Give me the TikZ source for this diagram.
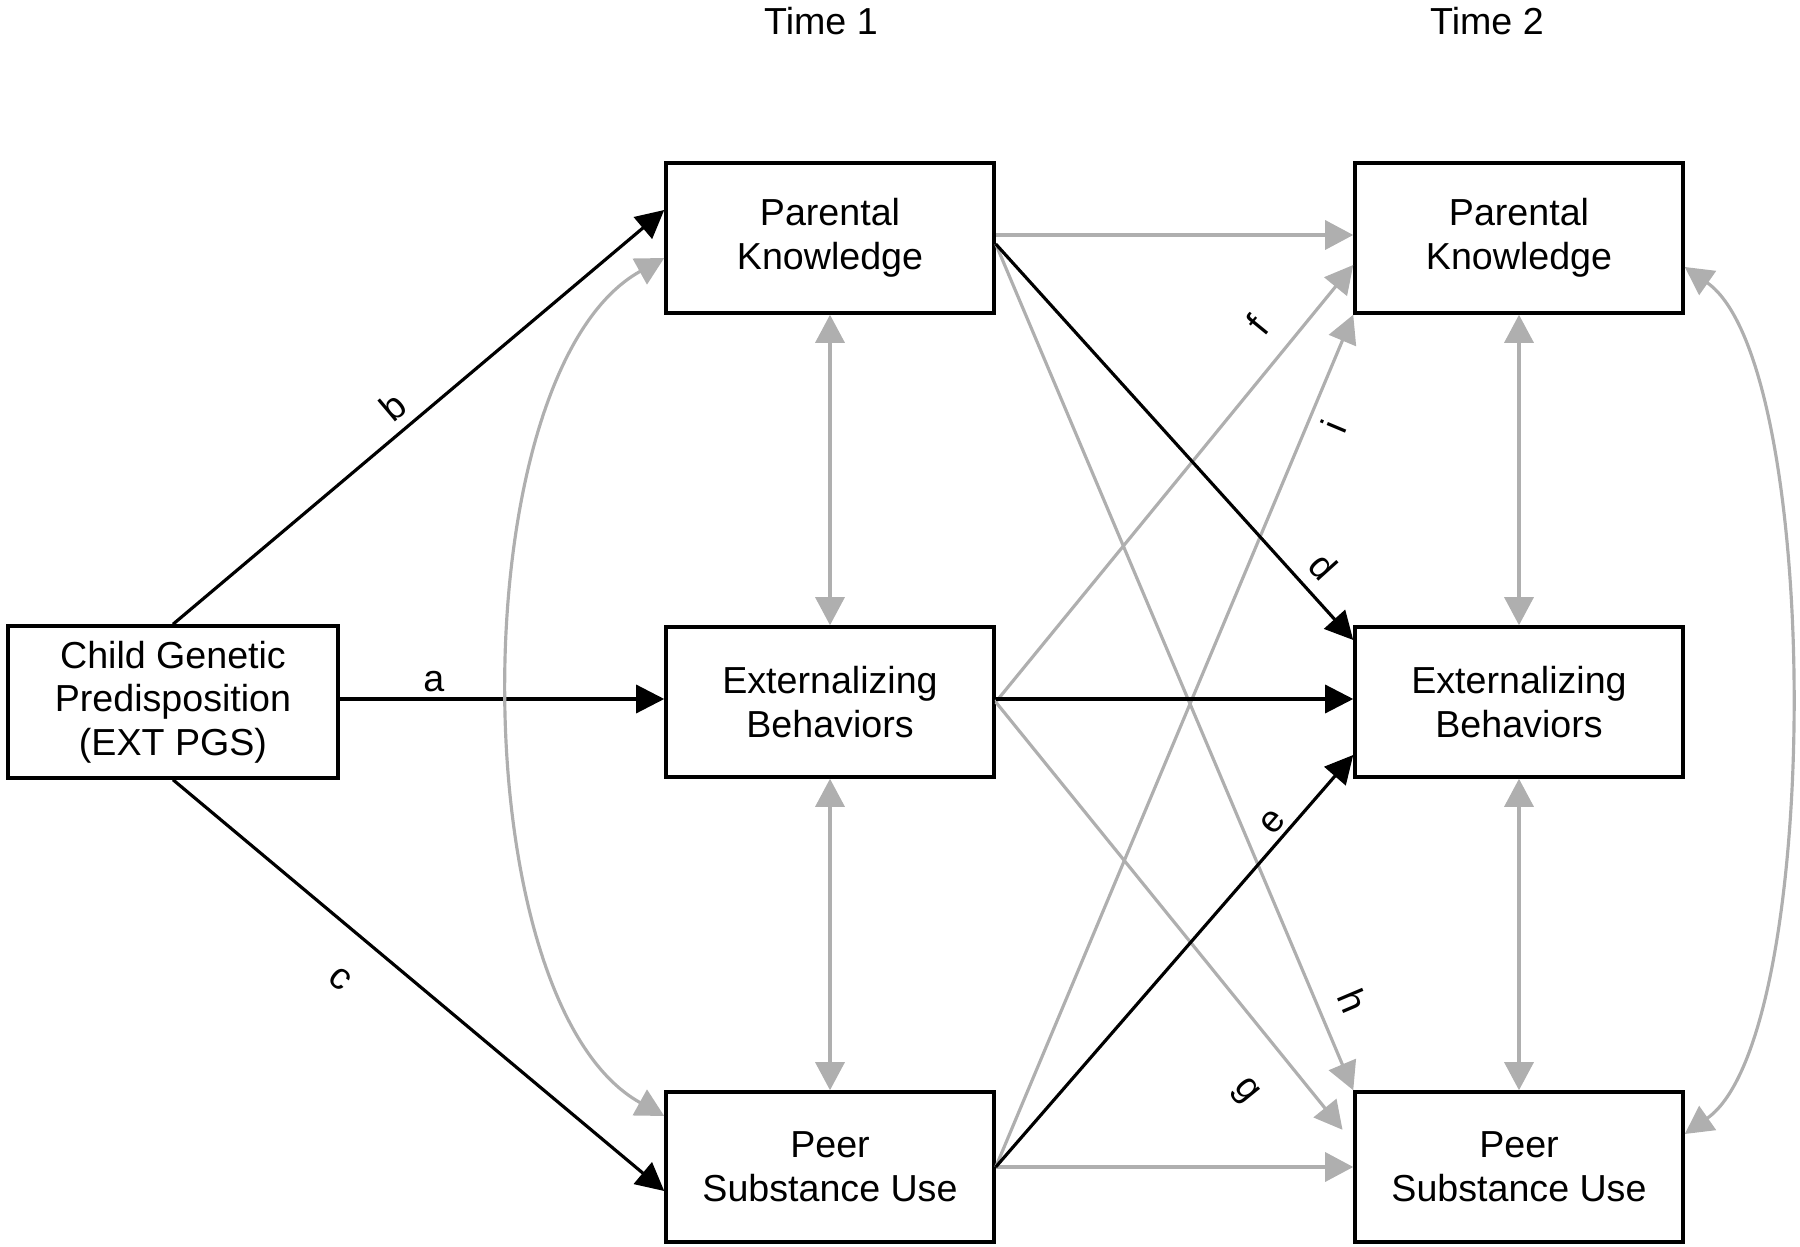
\documentclass[tikz,border=0pt]{standalone}
\usepackage{fontspec}
\setmainfont{Liberation Sans}
\usetikzlibrary{arrows.meta}
\definecolor{pathgray}{RGB}{175,175,175}

\begin{document}
\begin{tikzpicture}[
	font=\fontsize{10.7}{12.4}\selectfont,
	var/.style={draw, line width=1pt, minimum width=3.28cm, minimum height=1.5cm, align=center},
	blk/.style={line width=0.9pt, -{Triangle[length=0.28cm, width=0.28cm]}},
	gry/.style={pathgray, line width=0.9pt, -{Triangle[length=0.28cm, width=0.29cm]}},
	cov/.style={pathgray, line width=0.9pt, {Triangle[length=0.28cm, width=0.29cm]}-{Triangle[length=0.28cm, width=0.29cm]}},
	lab/.style={sloped, inner sep=1.5pt, text=black},
]
	\useasboundingbox (0,0) rectangle (18,12.46);
	
	\node (t1) at (8.21,12.25) {Time 1};
	\node (t2) at (14.87,12.25) {Time 2};
	
	\node[var, minimum width=3.3cm, minimum height=1.52cm] (child) at (1.73,5.44) {Child Genetic\\Predisposition\\(EXT PGS)};
	\node[var] (pk1) at (8.3,10.08) {Parental\\Knowledge};
	\node[var] (eb1) at (8.3,5.44) {Externalizing\\Behaviors};
	\node[var] (psu1) at (8.3,0.79) {Peer\\Substance Use};
	\node[var] (pk2) at (15.19,10.08) {Parental\\Knowledge};
	\node[var] (eb2) at (15.19,5.44) {Externalizing\\Behaviors};
	\node[var] (psu2) at (15.19,0.79) {Peer\\Substance Use};
	
	% genetic paths
	\draw[blk] ([yshift=0.03cm]child.east) -- node[lab, above, pos=0.29] {a} ([yshift=0.03cm]eb1.west);
	\draw[blk] (child.north) -- node[lab, above=1.3pt, pos=0.48] {b} ([yshift=0.28cm]pk1.west);
	\draw[blk] (child.south) -- node[lab, below=8pt, pos=0.4] {c} ([yshift=-0.24cm]psu1.west);
	
	% covariances
	\foreach \t in {1,2} {
		\draw[cov] (pk\t) -- (eb\t);
		\draw[cov] (eb\t) -- (psu\t);
	}
	\draw[cov] ([yshift=-0.2cm]pk1.west) to[out=209, in=151, looseness=0.7] ([yshift=0.51cm]psu1.west);
	\draw[cov] ([yshift=-0.29cm]pk2.east) to[out=-35, in=35, looseness=0.5] ([yshift=0.33cm]psu2.east);
	
	% cross-lagged paths
	\draw[gry] ([yshift=0.03cm]pk1.east) -- ([yshift=0.03cm]pk2.west);
	\draw[gry] (psu1.east) -- (psu2.west);
	\draw[gry] (eb1.east) -- node[lab, above=4.6pt, pos=0.81] {f} ([yshift=-0.27cm]pk2.west);
	\draw[gry, shorten >=0.17cm] (eb1.east) -- node[lab, below=8.8pt, pos=0.81] {g} ([yshift=0.24cm]psu2.west);
	\draw[gry] ([yshift=-0.06cm]pk1.east) -- node[lab, above=4pt, pos=0.91] {h} (psu2.north west);
	\draw[gry] (psu1.east) -- node[lab, below=1.3pt, pos=0.88] {i} (pk2.south west);
	\draw[blk] ([yshift=0.03cm]eb1.east) -- ([yshift=0.03cm]eb2.west);
	\draw[blk] ([yshift=-0.06cm]pk1.east) -- node[lab, above=2pt, pos=0.86] {d} ([yshift=0.62cm]eb2.west);
	\draw[blk] (psu1.east) -- node[lab, above, pos=0.81] {e} ([yshift=-0.53cm]eb2.west);
\end{tikzpicture}
\end{document}
